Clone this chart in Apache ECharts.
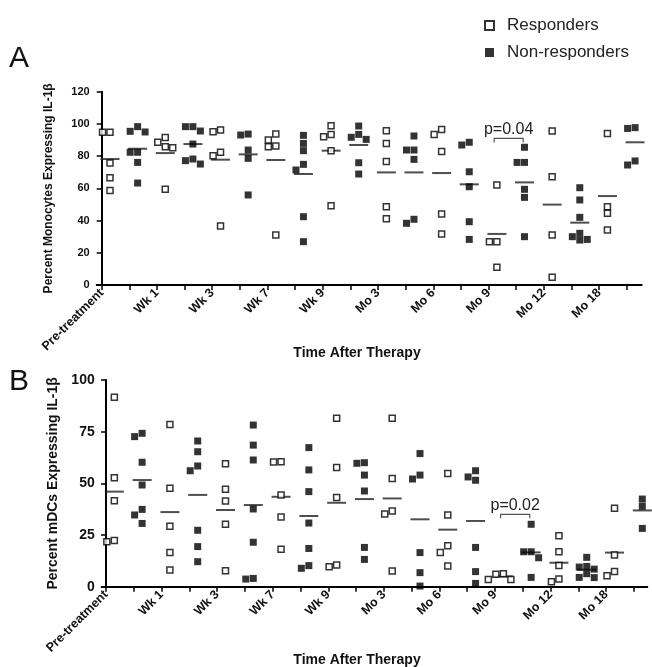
<!DOCTYPE html>
<html>
<head>
<meta charset="utf-8">
<script src="https://cdn.jsdelivr.net/npm/echarts@6/dist/echarts.min.js"></script>
<style>
  html, body { margin: 0; padding: 0; background: #fff; }
  #main { width: 652px; height: 667px; }
</style>
</head>
<body>
<div id="main"></div>
<script>
var timepoints = ['Pre-treatment', 'Wk 1', 'Wk 3', 'Wk 7', 'Wk 9', 'Mo 3', 'Mo 6', 'Mo 9', 'Mo 12', 'Mo 18'];

// panel A - monocytes
var monoResp = [
  [94.8, 94.8, 75.7, 66.6, 58.6],
  [85.9, 91.5, 88.6, 85.2, 59.4],
  [95.2, 96.2, 82.4, 80.3, 36.6],
  [93.7, 90.0, 85.9, 86.3, 31.0],
  [98.9, 92.1, 93.5, 83.4, 49.2],
  [95.8, 87.9, 76.6, 48.6, 41.2],
  [96.6, 93.5, 82.8, 44.1, 31.7],
  [62.1, 26.9, 26.9, 11.0],
  [95.6, 67.2, 31.0, 4.8],
  [94.1, 48.6, 44.5, 34.1]
];
var monoNon = [
  [95.4, 95.0, 98.3, 82.4, 82.4, 76.1, 63.3],
  [98.3, 98.3, 95.6, 87.5, 78.2, 77.2, 75.1],
  [93.7, 93.1, 83.8, 78.6, 55.9],
  [92.9, 87.9, 83.4, 74.9, 71.4, 42.4, 26.9],
  [98.7, 93.5, 90.4, 91.7, 75.9, 68.9],
  [92.5, 83.8, 83.8, 78.0, 38.3, 40.8],
  [86.9, 88.6, 70.3, 61.0, 39.3, 28.3],
  [85.5, 76.1, 76.1, 59.4, 54.4, 30.0],
  [60.4, 52.8, 42.0, 32.1, 28.3, 30.0, 27.9],
  [97.2, 96.8, 97.7, 77.0, 74.5]
];
var monoRespMean = [78.2, 81.9, 77.8, 77.6, 83.4, 69.9, 69.5, 31.7, 49.9, 55.2];
var monoNonMean = [84.6, 87.5, 81.1, 68.9, 86.9, 69.9, 62.5, 63.7, 38.7, 88.6];
var monoTicks = [0, 120, 20];

// panel B - mDCs
var mdcResp = [
  [91.6, 52.7, 41.6, 21.8, 22.3],
  [78.5, 47.6, 29.2, 16.5, 8.1],
  [59.5, 47.1, 41.5, 30.2, 7.7],
  [60.5, 60.3, 44.4, 33.7, 18.1],
  [81.5, 57.7, 43.1, 9.7, 10.5],
  [81.5, 52.3, 36.6, 35.2, 7.6],
  [54.8, 34.7, 19.8, 16.6, 10.0],
  [6.0, 6.3, 3.5, 3.5],
  [24.7, 16.9, 10.2, 2.4, 3.7],
  [37.9, 15.3, 5.3, 7.3]
];
var mdcNon = [
  [72.6, 74.2, 60.2, 49.2, 37.4, 34.7, 30.6],
  [70.5, 65.3, 58.4, 56.1, 27.3, 19.4, 12.1],
  [78.2, 68.5, 61.3, 37.6, 21.5, 3.7, 4.0],
  [67.3, 56.5, 46.0, 30.8, 18.5, 8.9, 10.2],
  [59.7, 60.0, 54.0, 46.3, 19.0, 13.2],
  [64.4, 54.0, 52.1, 16.5, 6.8, 0.3],
  [56.1, 53.1, 51.5, 19.0, 7.3, 1.6],
  [30.2, 16.9, 16.9, 14.0, 4.5],
  [14.2, 9.5, 9.8, 6.3, 4.4, 4.5, 8.5],
  [42.4, 38.9, 28.2]
];
var mdcRespMean = [46.0, 36.1, 37.1, 43.5, 40.6, 42.7, 27.6, 5.0, 11.6, 16.5];
var mdcNonMean = [51.6, 44.4, 39.5, 34.2, 42.4, 32.6, 31.8, 16.6, 8.2, 36.9];
var mdcTicks = [0, 100, 25];

var pLabels = ['p=0.04', 'p=0.02'];
var pLevels = [91, 35];

var FONT = 'Liberation Sans, Arial, sans-serif';

// spread points sideways when they'd overlap (simple beeswarm)
function swarm(cols, slot, thr) {
  var out = [];
  cols.forEach(function (vals, t) {
    var base = t * 2 + slot + 0.3;
    var placed = [];
    vals.slice().sort(function (a, b) { return b - a; }).forEach(function (v) {
      var tries = [0, -1, 1, -2, 2];
      for (var k = 0; k < tries.length; k++) {
        var off = tries[k];
        var hit = placed.some(function (p) { return p.off === off && Math.abs(p.v - v) < thr; });
        if (!hit) {
          placed.push({ v: v, off: off });
          out.push([base + off * 0.27, v]);
          break;
        }
      }
    });
  });
  return out;
}

function means(arr, slot) {
  return arr.map(function (m, t) { return [t * 2 + slot + 0.3, m]; });
}

function bracket(gi, y, label) {
  return {
    type: 'custom', xAxisIndex: gi, yAxisIndex: gi, silent: true, z: 5,
    data: [[14.2, 15.25, y]],
    renderItem: function (params, api) {
      var a = api.coord([api.value(0), api.value(2)]);
      var b = api.coord([api.value(1), api.value(2)]);
      return {
        type: 'group',
        children: [
          { type: 'polyline',
            shape: { points: [[a[0], a[1] + 4], [a[0], a[1]], [b[0], b[1]], [b[0], b[1] + 4]] },
            style: { stroke: '#555', lineWidth: 1.2, fill: null } },
          { type: 'text',
            style: { text: label, x: (a[0] + b[0]) / 2, y: a[1] - 1, align: 'center',
                     verticalAlign: 'bottom', font: '16px ' + FONT, fill: '#222' } }
        ]
      };
    }
  };
}

var tickVals = [], labelVals = [];
for (var i = 0; i < 20; i++) { tickVals.push(i); if (i % 2 === 0) labelVals.push(i); }

function xAxisFor(gi, min, max) {
  return {
    type: 'value', gridIndex: gi, min: min, max: max,
    splitLine: { show: false },
    axisLine: { show: true, onZero: false, lineStyle: { color: '#000', width: 2 } },
    axisTick: { show: true, customValues: tickVals, length: 5, lineStyle: { color: '#000', width: 1.5 } },
    axisLabel: {
      customValues: labelVals, rotate: 45, margin: 6,
      color: '#111', fontWeight: 'bold', fontSize: 12.5, fontFamily: FONT,
      formatter: function (v) { return timepoints[Math.round(v / 2)]; }
    }
  };
}

function yAxisFor(gi, ticks, name, labelSize, nameSize, gap) {
  return {
    type: 'value', gridIndex: gi, min: ticks[0], max: ticks[1], interval: ticks[2],
    splitLine: { show: false },
    axisLine: { show: true, lineStyle: { color: '#000', width: 2 } },
    axisTick: { show: true, length: 5, lineStyle: { color: '#000', width: 1.5 } },
    axisLabel: { color: '#111', fontWeight: 'bold', fontSize: labelSize, fontFamily: FONT, margin: 7 },
    name: name, nameLocation: 'middle', nameGap: gap,
    nameTextStyle: { color: '#111', fontWeight: 'bold', fontSize: nameSize, fontFamily: FONT }
  };
}

var openStyle = { color: '#fff', borderColor: '#000', borderWidth: 1.5 };
var fillStyle = { color: '#000' };

function panelSeries(gi, resp, non, respMean, nonMean, thr) {
  return [
    { type: 'scatter', name: 'mean', xAxisIndex: gi, yAxisIndex: gi, symbol: 'rect', symbolSize: [19, 2],
      itemStyle: { color: '#222' }, z: 1, silent: true, data: means(respMean, 0).concat(means(nonMean, 1)) },
    { type: 'scatter', name: 'Responders', xAxisIndex: gi, yAxisIndex: gi, symbol: 'rect', symbolSize: 6,
      itemStyle: openStyle, z: 3, data: swarm(resp, 0, thr) },
    { type: 'scatter', name: 'Non-responders', xAxisIndex: gi, yAxisIndex: gi, symbol: 'rect', symbolSize: 7,
      itemStyle: fillStyle, z: 3, data: swarm(non, 1, thr) }
  ];
}

var myChart = echarts.init(document.getElementById('main'));
myChart.setOption({
  animation: false,
  backgroundColor: '#fff',
  grid: [
    { left: 96.7, top: 91.7, width: 545, height: 193.3 },
    { left: 101.7, top: 380, width: 545.6, height: 206.7 }
  ],
  legend: {
    orient: 'vertical', left: 479, top: 12, itemGap: 10,
    itemWidth: 9, itemHeight: 9, icon: 'rect',
    textStyle: { fontSize: 17, fontFamily: FONT, color: '#222', padding: [0, 0, 0, 8] },
    data: [
      { name: 'Responders', itemStyle: { color: '#fff', borderColor: '#000', borderWidth: 2 } },
      { name: 'Non-responders', itemStyle: { color: '#000' } }
    ]
  },
  xAxis: [xAxisFor(0, -0.181, 19.54), xAxisFor(1, -0.155, 19.48)],
  yAxis: [
    yAxisFor(0, monoTicks, 'Percent Monocytes Expressing IL-1\u03b2', 11, 12, 42),
    yAxisFor(1, mdcTicks, 'Percent mDCs Expressing IL-1\u03b2', 14, 14, 31)
  ],
  graphic: [
    { type: 'text', left: 9, top: 44, style: { text: 'A', font: '30px ' + FONT, fill: '#111' } },
    { type: 'text', left: 9, top: 367, style: { text: 'B', font: '30px ' + FONT, fill: '#111' } },
    { type: 'text', x: 357, y: 353, style: { text: 'Time After Therapy', font: 'bold 14px ' + FONT,
      fill: '#111', align: 'center', verticalAlign: 'middle' } },
    { type: 'text', x: 357, y: 660, style: { text: 'Time After Therapy', font: 'bold 14px ' + FONT,
      fill: '#111', align: 'center', verticalAlign: 'middle' } }
  ],
  series: []
    .concat(panelSeries(0, monoResp, monoNon, monoRespMean, monoNonMean, 4.0))
    .concat(panelSeries(1, mdcResp, mdcNon, mdcRespMean, mdcNonMean, 3.2))
    .concat([bracket(0, pLevels[0], pLabels[0]), bracket(1, pLevels[1], pLabels[1])])
});
</script>
</body>
</html>
